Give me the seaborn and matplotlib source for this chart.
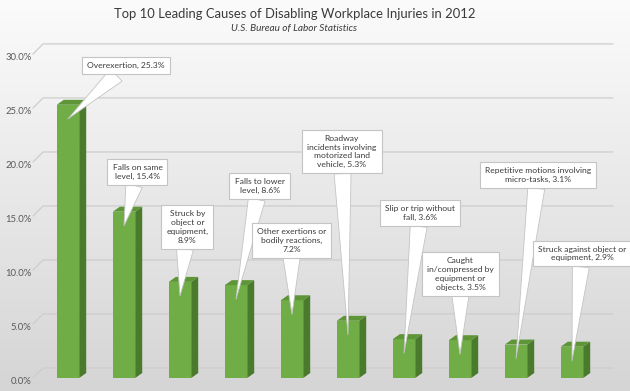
import matplotlib
matplotlib.use("Agg")
import matplotlib.pyplot as plt
import matplotlib.transforms as mtransforms
from matplotlib.patches import Polygon
from matplotlib.ticker import FuncFormatter, MultipleLocator
import numpy as np
import pandas as pd
import seaborn as sns

# data
causes = [
    "Overexertion",
    "Falls on same level",
    "Struck by object or equipment",
    "Falls to lower level",
    "Other exertions or bodily reactions",
    "Roadway incidents involving motorized land vehicle",
    "Slip or trip without fall",
    "Caught in/compressed by equipment or objects",
    "Repetitive motions involving micro-tasks",
    "Struck against object or equipment",
]
shares = [25.3, 15.4, 8.9, 8.6, 7.2, 5.3, 3.6, 3.5, 3.1, 2.9]
callout_lines = [
    "Overexertion,",
    "Falls on same\nlevel,",
    "Struck by\nobject or\nequipment,\n",
    "Falls to lower\nlevel,",
    "Other exertions or\nbodily reactions,\n",
    "Roadway\nincidents involving\nmotorized land\nvehicle,",
    "Slip or trip without\nfall,",
    "Caught\nin/compressed by\nequipment or\nobjects,",
    "Repetitive motions involving\nmicro-tasks,",
    "Struck against object or\nequipment,",
]

# callout box placement (category units, percent units)
box_x = [1.04, 1.24, 2.13, 3.42, 3.99, 4.89, 6.29, 7.01, 8.39, 9.18]
box_y = [28.9, 19.07, 13.98, 17.78, 12.73, 20.97, 15.28, 9.63, 18.8, 11.53]

FRONT = "#70ad47"
SIDE = "#4a7a2b"
TOP = "#5d9537"
TEXT = "#3a3a3a"
TICK = "#595959"
GRID = "#cdcdcd"

sns.set_style("white")
plt.rcParams["font.family"] = ["Lato", "DejaVu Sans"]

df = pd.DataFrame({"cause": causes, "share": shares})

fig = plt.figure(figsize=(6.3, 3.91), dpi=100)

# gradient background
bg = fig.add_axes([0, 0, 1, 1], zorder=-10)
grad = np.linspace(0, 1, 256).reshape(-1, 1)
bg.imshow(grad, aspect="auto", cmap=sns.blend_palette(["#fbfbfb", "#d5d5d5"], as_cmap=True),
          extent=[0, 1, 0, 1], origin="upper")
bg.set_axis_off()

ax = fig.add_axes([31.6 / 630, 13 / 391, 582.4 / 630, 324 / 391])
ax.patch.set_alpha(0)

# back-wall gridlines with perspective offset
gdx, gdy = 0.179, 0.93
for v in np.arange(0, 31, 5):
    ax.plot([-0.625, -0.625 + gdx, 9.73], [v, v + gdy, v + gdy],
            color=GRID, lw=0.9, clip_on=False, zorder=0)

sns.barplot(data=df, x="cause", y="share", color=FRONT, saturation=1,
            width=0.4, linewidth=0, ax=ax, zorder=3)

# fake 3d depth for each bar
dx, dy = 0.125, 0.46
for p in list(ax.patches):
    x0, w, h = p.get_x(), p.get_width(), p.get_height()
    side = Polygon([(x0 + w, 0), (x0 + w + dx, dy), (x0 + w + dx, h + dy), (x0 + w, h)],
                   closed=True, fc=SIDE, ec="none", zorder=3)
    top = Polygon([(x0, h), (x0 + dx, h + dy), (x0 + w + dx, h + dy), (x0 + w, h)],
                  closed=True, fc=TOP, ec="none", zorder=3)
    ax.add_patch(side)
    ax.add_patch(top)

ax.set_xlim(-0.65, 9.75)
ax.set_ylim(0, 30)
ax.yaxis.set_major_locator(MultipleLocator(5))
ax.yaxis.set_major_formatter(FuncFormatter(lambda v, _: f"{v:.1f}%"))
ax.tick_params(axis="y", length=0, pad=0, labelsize=6.8, labelcolor=TICK)
ax.tick_params(axis="x", length=0, labelbottom=False)
shift = mtransforms.ScaledTranslation(0, -3 / 100, fig.dpi_scale_trans)
for lab in ax.get_yticklabels():
    lab.set_transform(lab.get_transform() + shift)
ax.set_xlabel("")
ax.set_ylabel("")
sns.despine(ax=ax, left=True, bottom=True)

# callouts
for i, (txt, v) in enumerate(zip(callout_lines, shares)):
    sep = "" if txt.endswith("\n") else " "
    label = f"{txt}{sep}{v}%"
    ax.annotate(
        label, xy=(i, v - 1.3), xytext=(box_x[i], box_y[i]), textcoords="data",
        ha="center", va="center", fontsize=6.1, color=TEXT, linespacing=1.3,
        bbox=dict(boxstyle="square,pad=0.6", fc="white", ec="#c4c4c4", lw=0.8),
        arrowprops=dict(arrowstyle="wedge,tail_width=2.0", fc="white", ec="#c4c4c4",
                        lw=0.6, shrinkA=0, shrinkB=0),
        zorder=10, annotation_clip=False,
    )

fig.text(0.468, 0.964, "Top 10 Leading Causes of Disabling Workplace Injuries in 2012",
         ha="center", va="center", fontsize=9.4, color=TEXT)
fig.text(0.466, 0.928, "U.S. Bureau of Labor Statistics",
         ha="center", va="center", fontsize=7.2, color=TEXT, style="italic")

fig.savefig("out.png", dpi=100)
